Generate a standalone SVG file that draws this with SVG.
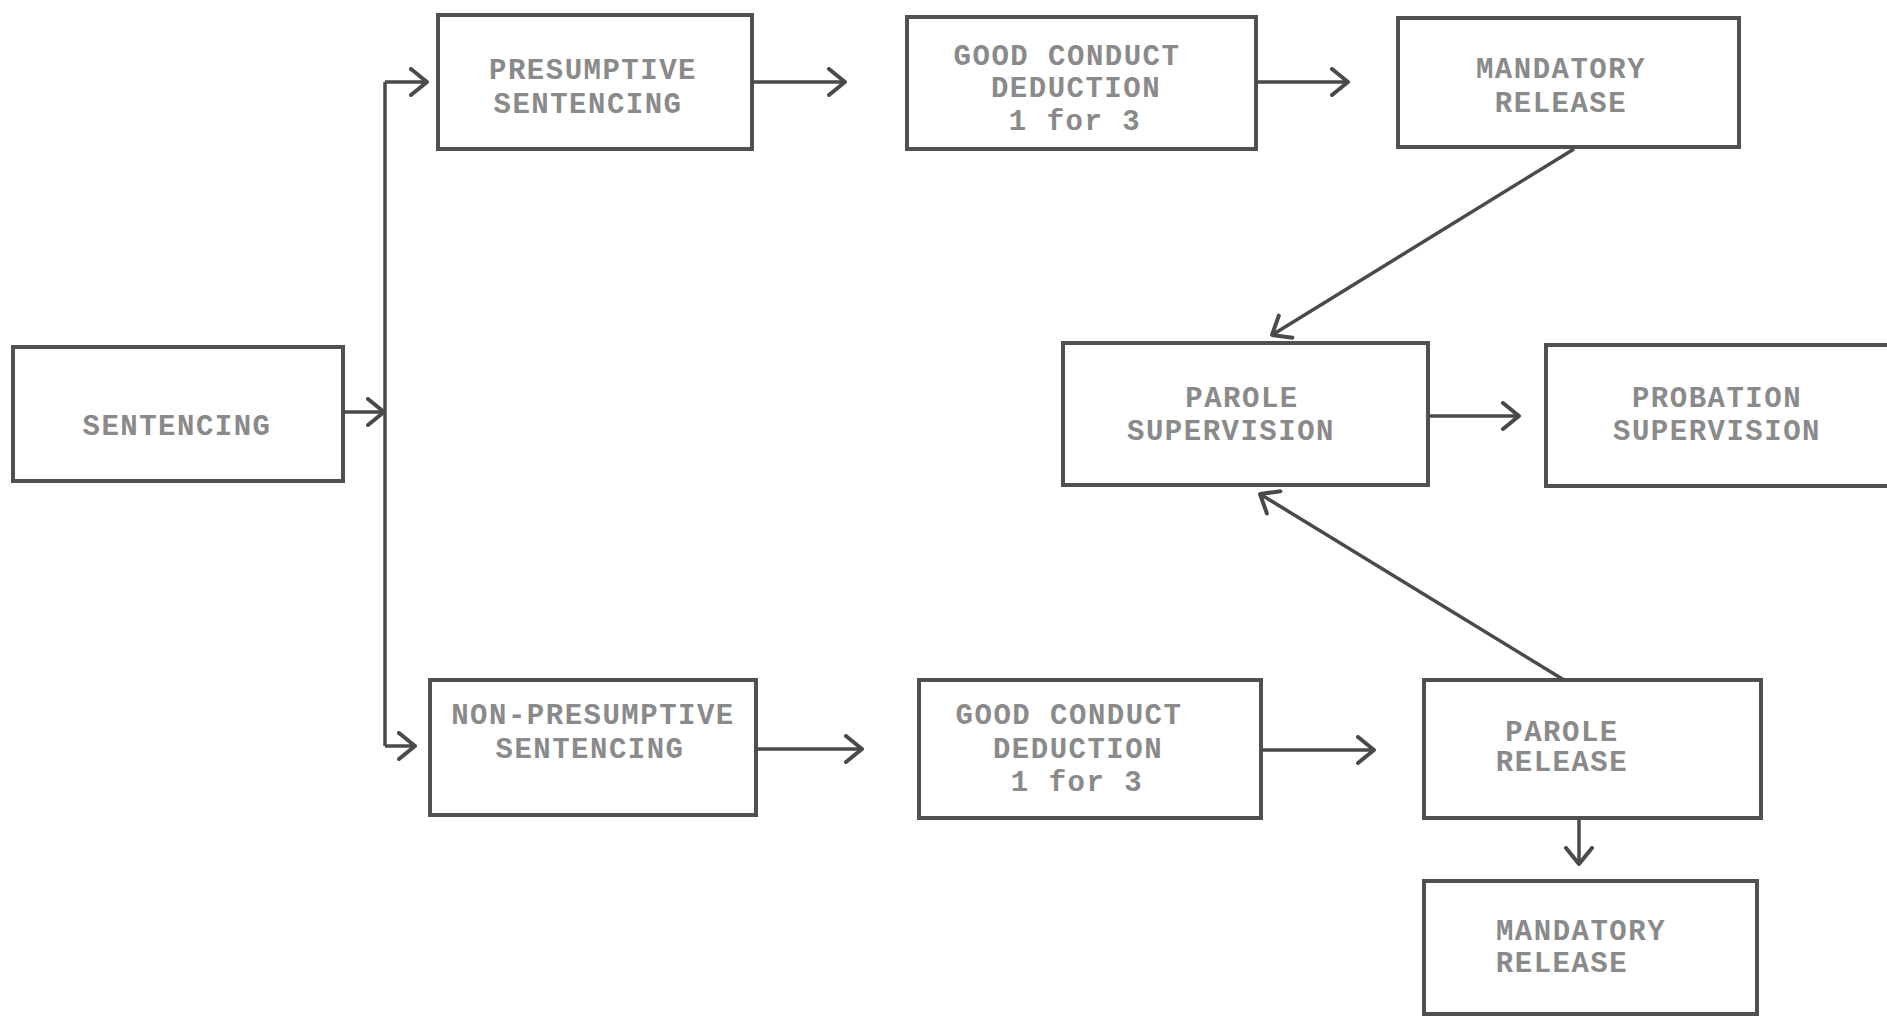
<svg xmlns="http://www.w3.org/2000/svg" width="1887" height="1018" viewBox="0 0 1887 1018">
<defs>
<marker id="arr" viewBox="0 0 20 30" refX="18" refY="15" markerWidth="20" markerHeight="30" markerUnits="userSpaceOnUse" orient="auto">
<path d="M2,2 L18,15 L2,28" fill="none" stroke="#4a4a4a" stroke-width="4" stroke-linecap="round" stroke-linejoin="round"/>
</marker>
</defs>
<style>
.box{fill:#fff;stroke:#505050;stroke-width:4}
.t{font-family:"Liberation Mono","DejaVu Sans Mono",monospace;font-weight:bold;font-size:29px;letter-spacing:1.5px;fill:#8a8a8a;text-anchor:middle}
.c{fill:none;stroke:#4a4a4a;stroke-width:3.5}
</style>
<rect width="1887" height="1018" fill="#fff"/>
<g id="n-sentencing"><rect class="box" x="13" y="347" width="330" height="134"/><text class="t" x="177" y="435">SENTENCING</text></g>
<g id="n-presumptive"><rect class="box" x="438" y="15" width="314" height="134"/><text class="t" x="593" y="79">PRESUMPTIVE</text><text class="t" x="588" y="113">SENTENCING</text></g>
<g id="n-gcd-top"><rect class="box" x="907" y="17" width="349" height="132"/><text class="t" x="1067" y="65">GOOD CONDUCT</text><text class="t" x="1076" y="97">DEDUCTION</text><text class="t" x="1075" y="130">1 for 3</text></g>
<g id="n-mandatory-top"><rect class="box" x="1398" y="18" width="341" height="129"/><text class="t" x="1561" y="78">MANDATORY</text><text class="t" x="1561" y="112">RELEASE</text></g>
<g id="n-parole-sup"><rect class="box" x="1063" y="343" width="365" height="142"/><text class="t" x="1242" y="407">PAROLE</text><text class="t" x="1231" y="440">SUPERVISION</text></g>
<g id="n-probation-sup"><rect class="box" x="1546" y="345" width="345" height="141"/><text class="t" x="1717" y="407">PROBATION</text><text class="t" x="1717" y="440">SUPERVISION</text></g>
<g id="n-nonpresumptive"><rect class="box" x="430" y="680" width="326" height="135"/><text class="t" x="593" y="724">NON-PRESUMPTIVE</text><text class="t" x="590" y="758">SENTENCING</text></g>
<g id="n-gcd-bottom"><rect class="box" x="919" y="680" width="342" height="138"/><text class="t" x="1069" y="724">GOOD CONDUCT</text><text class="t" x="1078" y="758">DEDUCTION</text><text class="t" x="1077" y="791">1 for 3</text></g>
<g id="n-parole-release"><rect class="box" x="1424" y="680" width="337" height="138"/><text class="t" x="1562" y="741">PAROLE</text><text class="t" x="1562" y="771">RELEASE</text></g>
<g id="n-mandatory-bottom"><rect class="box" x="1424" y="881" width="333" height="133"/><text class="t" x="1581" y="940">MANDATORY</text><text class="t" x="1562" y="972">RELEASE</text></g>
<g id="connectors">
<path class="c" d="M343,412 L384,412" marker-end="url(#arr)"/>
<path class="c" d="M385,82 L385,746"/>
<path class="c" d="M385,82 L427,82" marker-end="url(#arr)"/>
<path class="c" d="M385,746 L415,746" marker-end="url(#arr)"/>
<path class="c" d="M752,82 L845,82" marker-end="url(#arr)"/>
<path class="c" d="M1256,82 L1348,82" marker-end="url(#arr)"/>
<path class="c" d="M1574,149 L1272,335" marker-end="url(#arr)"/>
<path class="c" d="M1428,416 L1519,416" marker-end="url(#arr)"/>
<path class="c" d="M1564,680 L1260,494" marker-end="url(#arr)"/>
<path class="c" d="M756,749 L862,749" marker-end="url(#arr)"/>
<path class="c" d="M1261,750 L1374,750" marker-end="url(#arr)"/>
<path class="c" d="M1579,818 L1579,864" marker-end="url(#arr)"/>
</g>
</svg>
